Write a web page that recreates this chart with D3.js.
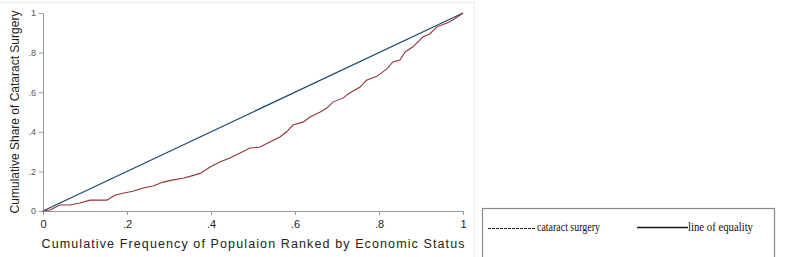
<!DOCTYPE html>
<html><head><meta charset="utf-8">
<script src="https://cdn.jsdelivr.net/npm/d3@7"></script>
<style>body{margin:0;background:#fff}svg{display:block}</style>
</head><body>
<script>
const popShare = [0,0.017,0.04,0.064,0.088,0.112,0.152,0.171,0.19,0.214,0.238,0.262,0.286,0.31,0.333,0.35,0.374,0.398,0.421,0.445,0.469,0.493,0.517,0.54,0.564,0.58,0.595,0.62,0.636,0.66,0.676,0.69,0.714,0.73,0.755,0.77,0.795,0.82,0.833,0.85,0.862,0.88,0.905,0.921,0.938,0.962,0.976,1];
const surgeryShare = [0,0.005,0.03,0.03,0.04,0.055,0.055,0.08,0.09,0.10,0.116,0.126,0.146,0.157,0.165,0.175,0.19,0.222,0.247,0.268,0.293,0.318,0.323,0.348,0.374,0.40,0.434,0.45,0.475,0.50,0.52,0.55,0.57,0.596,0.626,0.66,0.68,0.72,0.753,0.763,0.803,0.828,0.88,0.894,0.93,0.95,0.965,1];
const equalityX = [0,1];
const equalityY = [0,1];
const xTicks = [0,0.2,0.4,0.6,0.8,1];
const yTicks = [0,0.2,0.4,0.6,0.8,1];
const xTickLabels = ["0",".2",".4",".6",".8","1"];
const yTickLabels = ["0",".2",".4",".6",".8","1"];
const legendLabels = ["cataract surgery","line of equality"];

const W=792,H=257;
const svg=d3.select("body").append("svg").attr("width",W).attr("height",H);
// faint frame
svg.append("line").attr("x1",0).attr("x2",474).attr("y1",2.5).attr("y2",2.5).attr("stroke","#ececec");
svg.append("line").attr("x1",474.5).attr("x2",474.5).attr("y1",2).attr("y2",257).attr("stroke","#ececec");

const x=d3.scaleLinear().domain([0,1]).range([43,463]);
const y=d3.scaleLinear().domain([0,1]).range([211,13]);

const xa=svg.append("g").attr("transform","translate(0,211)")
 .call(d3.axisBottom(x).tickValues(xTicks).tickFormat((d,i)=>xTickLabels[i]).tickSize(4).tickSizeOuter(0));
xa.select(".domain").attr("stroke","#999");
xa.selectAll(".tick line").attr("stroke","#999");
xa.selectAll("text").attr("font-family","Liberation Sans, Arial").attr("font-size",11).attr("fill","#222").attr("y",8).attr("dy","0.85em");

const ya=svg.append("g").attr("transform","translate(43,0)")
 .call(d3.axisLeft(y).tickValues(yTicks).tickFormat((d,i)=>yTickLabels[i]).tickSize(4).tickSizeOuter(0));
ya.select(".domain").attr("stroke","#999");
ya.selectAll(".tick line").attr("stroke","#999");
ya.selectAll("text").attr("font-family","Liberation Sans, Arial").attr("font-size",9).attr("fill","#555").attr("x",-7);

svg.append("text").attr("x",253).attr("y",248).attr("text-anchor","middle")
 .attr("font-family","Liberation Sans, Arial").attr("font-size",12.5).attr("fill","#222")
 .attr("textLength",423).attr("lengthAdjust","spacing")
 .text("Cumulative Frequency of Populaion Ranked by Economic Status");
svg.append("text").attr("transform","translate(19,112) rotate(-90)").attr("text-anchor","middle")
 .attr("font-family","Liberation Sans, Arial").attr("font-size",12).attr("fill","#222")
 .text("Cumulative Share of Cataract Surgery");

const line=d3.line().x(d=>x(d[0])).y(d=>y(d[1]));
svg.append("path").datum(equalityX.map((v,i)=>[v,equalityY[i]])).attr("d",line)
 .attr("fill","none").attr("stroke","#1a476f").attr("stroke-width",1.2);
svg.append("path").datum(popShare.map((v,i)=>[v,surgeryShare[i]])).attr("d",line)
 .attr("fill","none").attr("stroke","#90353b").attr("stroke-width",1.1);

// legend
const serif="Liberation Serif, Times New Roman";
const lg=svg.append("g");
lg.append("rect").attr("x",482.5).attr("y",208.5).attr("width",292).attr("height",60)
 .attr("fill","#fff").attr("stroke","#888").attr("stroke-width",1.2);
lg.append("line").attr("x1",488).attr("x2",536).attr("y1",228.5).attr("y2",228.5)
 .attr("stroke","#222").attr("stroke-width",1).attr("stroke-dasharray","3,1");
lg.append("text").attr("x",537).attr("y",231).attr("font-family",serif).attr("font-size",13.5).attr("fill","#111")
 .attr("textLength",63).attr("lengthAdjust","spacingAndGlyphs").text(legendLabels[0]);
lg.append("line").attr("x1",637).attr("x2",688).attr("y1",227.5).attr("y2",227.5).attr("stroke","#111").attr("stroke-width",1.6);
lg.append("text").attr("x",688).attr("y",231).attr("font-family",serif).attr("font-size",13.5).attr("fill","#111")
 .attr("textLength",65).attr("lengthAdjust","spacingAndGlyphs").text(legendLabels[1]);
</script>
</body></html>
